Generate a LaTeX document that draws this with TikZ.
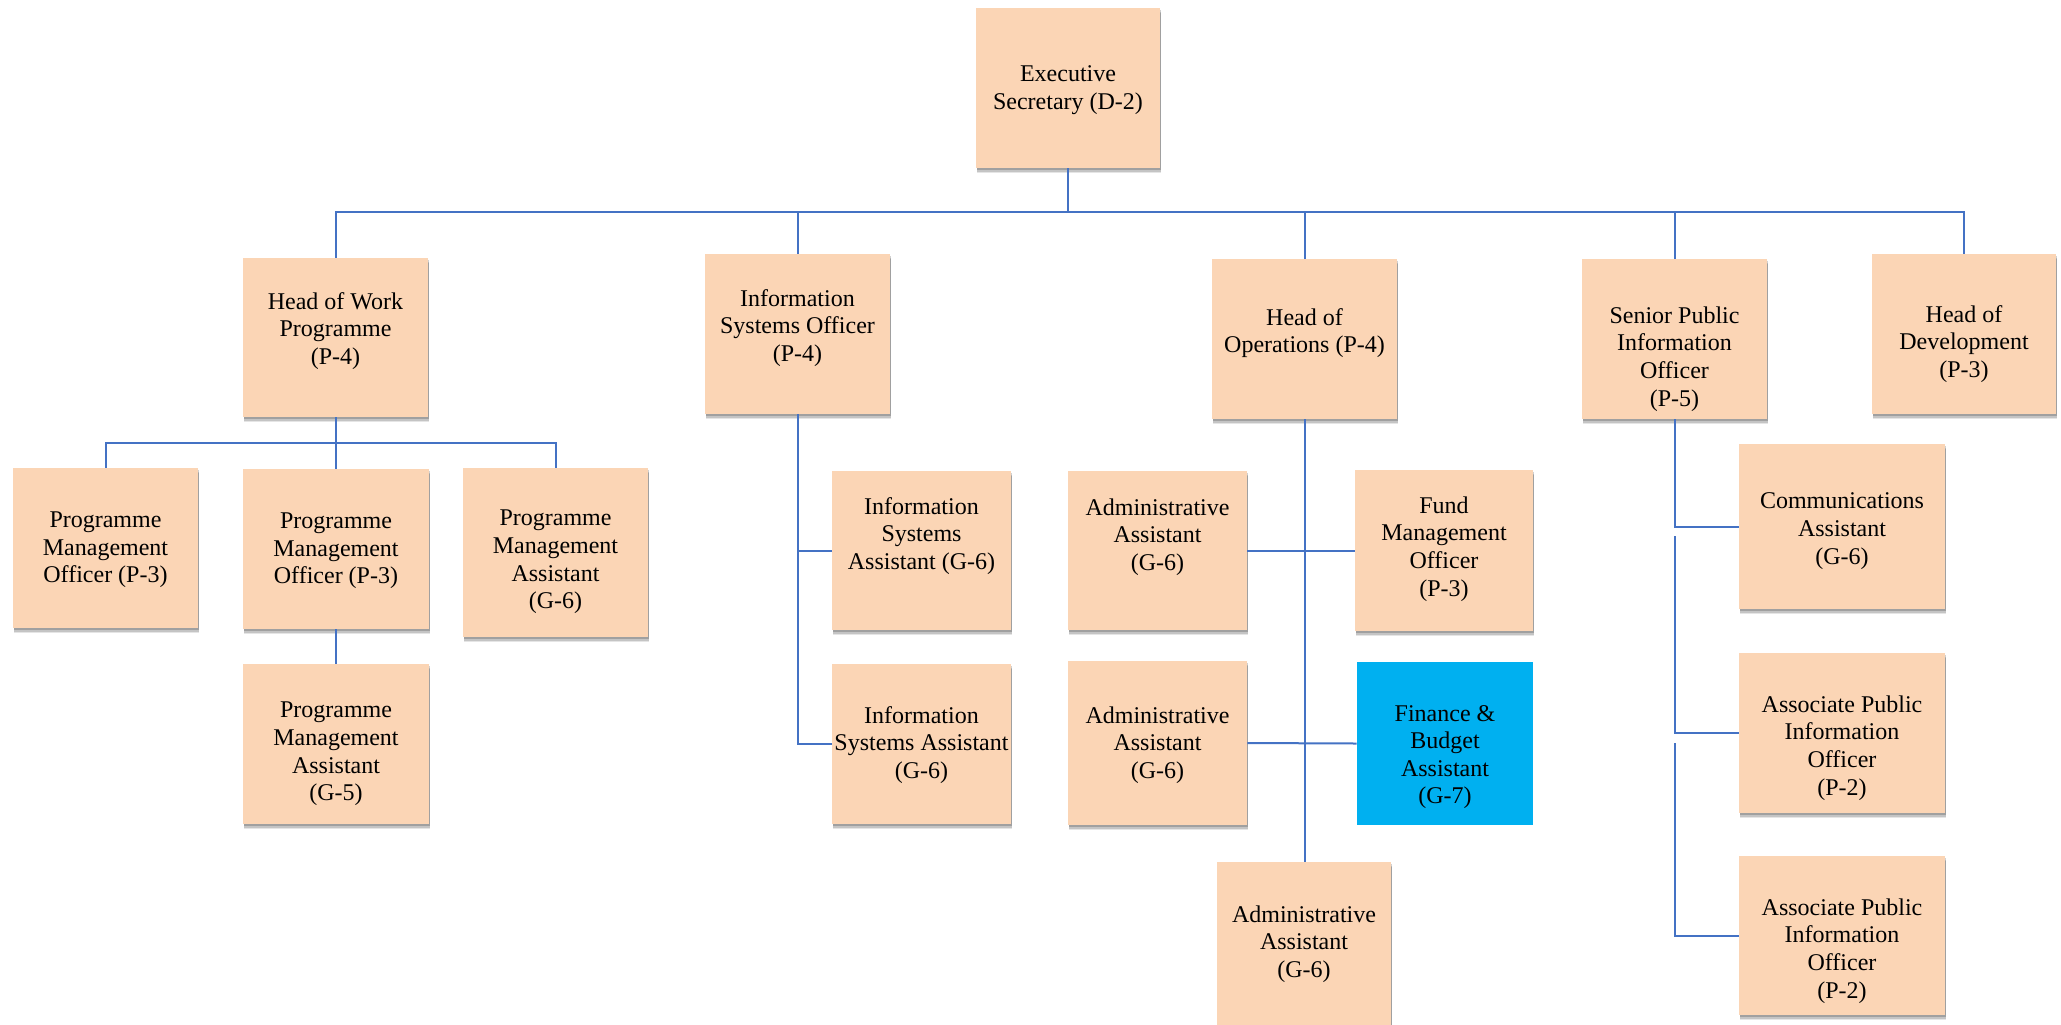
\documentclass[tikz,border=0pt]{standalone}
\usepackage{fontspec}
\setmainfont{Liberation Serif}
\usetikzlibrary{shadows}
\definecolor{peach}{HTML}{FBD5B5}
\definecolor{cyanbox}{HTML}{00B0F0}
\definecolor{linkblue}{HTML}{4472C4}
\tikzset{
  box/.style={fill=peach, draw=none, inner sep=0pt,
    drop shadow={shadow xshift=0.6pt, shadow yshift=-2.6pt, fill=black, opacity=0.10},
    drop shadow={shadow xshift=0.5pt, shadow yshift=-1.9pt, fill=black, opacity=0.14},
    drop shadow={shadow xshift=0.3pt, shadow yshift=-1.2pt, fill=black, opacity=0.18}},
  plainbox/.style={fill=cyanbox, draw=none, inner sep=0pt},
  txt/.style={align=center, inner sep=0pt, font=\fontsize{12pt}{13.8pt}\selectfont},
  con/.style={draw=linkblue, line width=1pt},
}
\begin{document}
\begin{tikzpicture}[x=0.5pt, y=-0.5pt]
\useasboundingbox (0,0) rectangle (2061,1024);
\fill[white] (0,0) rectangle (2061,1024);

% ---- boxes ----
\node[box, minimum width=92pt, minimum height=80pt] (exec) at (1068,88) {};
\node[box, minimum width=92.5pt, minimum height=79.5pt] (hwp) at (335.5,337.5) {};
\node[box, minimum width=92.5pt, minimum height=80pt] (iso) at (797.5,334) {};
\node[box, minimum width=92.5pt, minimum height=80pt] (hops) at (1304.5,339) {};
\node[box, minimum width=92.5pt, minimum height=80pt] (spio) at (1674.5,339) {};
\node[box, minimum width=92pt, minimum height=80pt] (hdev) at (1964,334) {};

\node[box, minimum width=92.5pt, minimum height=80pt] (pmo1) at (105.5,548) {};
\node[box, minimum width=93pt, minimum height=80pt] (pmo2) at (336,549) {};
\node[box, minimum width=92.5pt, minimum height=84.5pt] (pma6) at (555.5,552.5) {};
\node[box, minimum width=93pt, minimum height=80pt] (pma5) at (336,744) {};

\node[box, minimum width=89.5pt, minimum height=79.5pt] (isa1) at (921.5,550.5) {};
\node[box, minimum width=89.5pt, minimum height=80pt] (isa2) at (921.5,744) {};

\node[box, minimum width=89.5pt, minimum height=79.5pt] (aa1) at (1157.5,550.5) {};
\node[box, minimum width=89pt, minimum height=80.5pt] (fmo) at (1444,550.5) {};
\node[box, minimum width=89.5pt, minimum height=82pt] (aa2) at (1157.5,743) {};
\node[plainbox, minimum width=88pt, minimum height=81.5pt] (fba) at (1445,743.5) {};
\node[box, minimum width=87pt, minimum height=84pt] (aa3) at (1304,946) {};

\node[box, minimum width=103pt, minimum height=82.5pt] (comm) at (1842,526.5) {};
\node[box, minimum width=103pt, minimum height=80pt] (apio1) at (1842,733) {};
\node[box, minimum width=103pt, minimum height=79.5pt] (apio2) at (1842,935.5) {};

% ---- texts ----
\node[txt] (exec-t) at (1068,90) {Executive\\Secretary (D-2)};
\node[txt] (hwp-t) at (335.5,331) {Head of Work\\Programme\\(P-4)};
\node[txt] (iso-t) at (797.5,328) {Information\\Systems Officer\\(P-4)};
\node[txt] (hops-t) at (1304.5,333) {Head of\\Operations (P-4)};
\node[txt] (spio-t) at (1674.5,359) {Senior Public\\Information\\Officer\\(P-5)};
\node[txt] (hdev-t) at (1964,344) {Head of\\Development\\(P-3)};

\node[txt] (pmo1-t) at (105.5,550) {Programme\\Management\\Officer (P-3)};
\node[txt] (pmo2-t) at (336,551) {Programme\\Management\\Officer (P-3)};
\node[txt] (pma6-t) at (555.5,562) {Programme\\Management\\Assistant\\(G-6)};
\node[txt] (pma5-t) at (336,754) {Programme\\Management\\Assistant\\(G-5)};

\node[txt] (isa1-t) at (921.5,536) {Information\\Systems\\Assistant (G-6)};
\node[txt] (isa2-t) at (921.5,745) {Information\\Systems Assistant\\(G-6)};

\node[txt] (aa1-t) at (1157.5,537) {Administrative\\Assistant\\(G-6)};
\node[txt] (fmo-t) at (1444,549) {Fund\\Management\\Officer\\(P-3)};
\node[txt] (aa2-t) at (1157.5,745) {Administrative\\Assistant\\(G-6)};
\node[txt] (fba-t) at (1445,757) {Finance \&\\Budget\\Assistant\\(G-7)};
\node[txt] (aa3-t) at (1304,944) {Administrative\\Assistant\\(G-6)};

\node[txt] (comm-t) at (1842,531) {Communications\\Assistant\\(G-6)};
\node[txt] (apio1-t) at (1842,748) {Associate Public\\Information\\Officer\\(P-2)};
\node[txt] (apio2-t) at (1842,951) {Associate Public\\Information\\Officer\\(P-2)};

% ---- connectors ----
\coordinate (bus) at (1068,212);
\draw[con] (exec.south) -- (bus);
\draw[con] (bus) -| (hwp.north);
\draw[con] (bus) -| (iso.north);
\draw[con] (bus) -| (hops.north);
\draw[con] (bus) -| (spio.north);
\draw[con] (bus) -| (hdev.north);

\coordinate (bus2) at (335.5,443);
\draw[con] (hwp.south) -- (bus2);
\draw[con] (bus2) -| (pmo1.north);
\draw[con] (bus2) -| (pmo2.north);
\draw[con] (bus2) -| (pma6.north);
\draw[con] (pmo2.south) -- (pma5.north);

\draw[con] (iso.south) |- (isa1.west);
\draw[con] (iso.south) |- (isa2.west);

\draw[con] (hops.south) -- (hops.south |- aa3.north);
\draw[con] (aa1.east) -- (fmo.west);
\draw[con] (aa2.east) -- (fba.west);

\coordinate (sp1) at (1674.5,536);
\coordinate (sp2) at (1674.5,743);
\draw[con] (spio.south) |- (comm.west);
\draw[con] (sp1) |- (apio1.west);
\draw[con] (sp2) |- (apio2.west);
\end{tikzpicture}
\end{document}
